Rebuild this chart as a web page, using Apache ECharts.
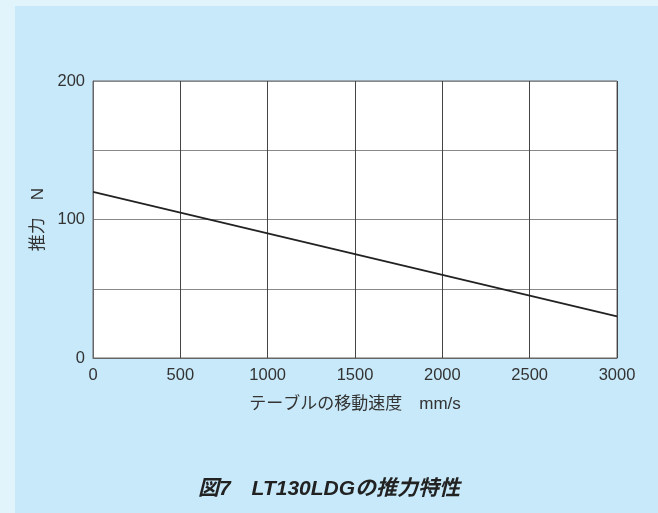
<!DOCTYPE html>
<html>
<head>
<meta charset="utf-8">
<script src="https://cdn.jsdelivr.net/npm/echarts@6/dist/echarts.min.js"></script>
<style>
  html, body { margin: 0; padding: 0; background: #e1f3fb; }
  #chart { width: 658px; height: 513px; }
</style>
</head>
<body>
<div id="chart"></div>
<script>
// Thrust vs. table speed for the LT130LDG
const speedTicks = [0, 500, 1000, 1500, 2000, 2500, 3000];
const thrustTicks = [0, 100, 200];
const speedPoints = [0, 3000];       // mm/s
const thrustPoints = [120, 30];      // N

const xName = 'テーブルの移動速度　mm/s';
const yName = '推力　N';
const figTitle = '図7　LT130LDGの推力特性';

const FONT = '"Liberation Sans", "Noto Sans CJK JP", sans-serif';

const chart = echarts.init(document.getElementById('chart'), null, { renderer: 'canvas' });

chart.setOption({
  animation: false,
  backgroundColor: '#e1f3fb',
  graphic: [
    { type: 'rect', z: -10, shape: { x: 15, y: 6, width: 643, height: 507 }, style: { fill: '#c7e9f9' } },
    {
      type: 'text', left: 'center', top: 479,
      style: { text: figTitle, fontFamily: FONT, fontSize: 21, fontWeight: 'bold', fontStyle: 'italic', fill: '#222' }
    }
  ],
  grid: { left: 93, top: 81, width: 524, height: 277, show: true, backgroundColor: '#ffffff', borderColor: '#666', borderWidth: 1 },
  xAxis: {
    type: 'value',
    min: 0, max: 3000, interval: 500,
    name: xName, nameLocation: 'middle', nameGap: 38,
    nameTextStyle: { fontFamily: FONT, fontSize: 17, color: '#333' },
    axisLine: { show: true, lineStyle: { color: '#666', width: 1 } },
    axisTick: { show: false },
    axisLabel: {
      fontFamily: FONT, fontSize: 16.5, color: '#333', margin: 9,
      formatter: v => speedTicks.includes(v) ? String(v) : ''
    },
    splitLine: { show: true, lineStyle: { color: '#444', width: 1 } }
  },
  yAxis: {
    type: 'value',
    min: 0, max: 200, interval: 50,
    name: yName, nameLocation: 'middle', nameGap: 45, nameRotate: 90,
    nameTextStyle: { fontFamily: FONT, fontSize: 17, color: '#333' },
    axisLine: { show: true, lineStyle: { color: '#666', width: 1 } },
    axisTick: { show: false },
    axisLabel: {
      fontFamily: FONT, fontSize: 16.5, color: '#333', margin: 8,
      formatter: v => thrustTicks.includes(v) ? String(v) : ''
    },
    splitLine: { show: true, lineStyle: { color: '#888', width: 1 } }
  },
  series: [{
    type: 'line',
    data: speedPoints.map((s, i) => [s, thrustPoints[i]]),
    showSymbol: false,
    lineStyle: { color: '#222', width: 1.8 }
  }]
});
</script>
</body>
</html>
